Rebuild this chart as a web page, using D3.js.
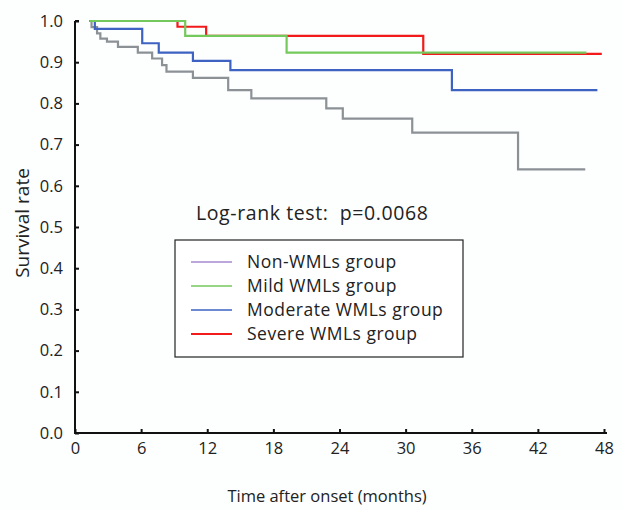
<!DOCTYPE html>
<html><head><meta charset="utf-8">
<script src="https://cdn.jsdelivr.net/npm/d3@7"></script>
<style>
body{margin:0;background:#fdfefe;}
svg{display:block;}
text{font-family:"Open Sans","Noto Sans",sans-serif;fill:#222;}
</style></head>
<body><div id="chart"></div>
<script>
// Kaplan–Meier steps: [month, survival]
const nonWMLs = [[1.3,1.0],[1.5,0.985],[2.0,0.970],[2.3,0.957],[2.9,0.950],[3.9,0.937],[5.7,0.923],[7.0,0.909],[7.9,0.893],[8.3,0.877],[10.7,0.862],[13.9,0.832],[16.0,0.812],[22.8,0.788],[24.3,0.763],[30.6,0.729],[40.2,0.640],[46.3,0.640]];
const mildWMLs = [[1.3,1.0],[10.0,0.964],[19.2,0.923],[46.4,0.923]];
const moderateWMLs = [[1.3,1.0],[1.8,0.981],[6.1,0.946],[7.6,0.923],[10.7,0.903],[14.1,0.881],[34.2,0.832],[47.4,0.832]];
const severeWMLs = [[1.3,1.0],[9.3,0.986],[11.9,0.964],[31.6,0.920],[47.8,0.920]];
const seriesNames = ["Non-WMLs group","Mild WMLs group","Moderate WMLs group","Severe WMLs group"];
const xTicks = [0,6,12,18,24,30,36,42,48];
const yTicks = [0,0.1,0.2,0.3,0.4,0.5,0.6,0.7,0.8,0.9,1.0];

const W=623,H=510;
const svg=d3.select("#chart").append("svg").attr("width",W).attr("height",H);
const x=d3.scaleLinear().domain([0,48]).range([75,604]);
const y=d3.scaleLinear().domain([0,1]).range([433,21]);

const curveColors=["#8c9196","#74c95c","#3d62c2","#f21a1a"];
const legendColors=["#a48ad0","#74c95c","#3d62c2","#f21a1a"];
const data=[nonWMLs,mildWMLs,moderateWMLs,severeWMLs];

// axes
const xAxis=svg.append("g").attr("transform",`translate(0,${y(0)})`)
  .call(d3.axisBottom(x).tickValues(xTicks).tickSize(-4).tickPadding(9).tickFormat(d3.format("d")));
const yAxis=svg.append("g").attr("transform",`translate(${x(0)},0)`)
  .call(d3.axisLeft(y).tickValues(yTicks).tickSize(-4).tickPadding(12).tickFormat(d3.format(".1f")));
[xAxis,yAxis].forEach(a=>{
  a.select(".domain").attr("stroke","#111").attr("stroke-width",2);
  a.selectAll(".tick line").attr("stroke","#111").attr("stroke-width",2);
  a.selectAll("text").style("font-size","16.5px").attr("fill","#222");
});
xAxis.select(".domain").attr("d",`M${x(0)},0H${x(48)+3}`);
yAxis.select(".domain").attr("d",`M0,${y(1)}H4M0,${y(1)}V${y(0)+1}`);

// curves: gray, red, blue, green (green on top)
const line=d3.line().x(d=>x(d[0])).y(d=>y(d[1])).curve(d3.curveStepAfter);
[0,3,2,1].forEach(i=>{
  svg.append("path").datum(data[i]).attr("d",line).attr("fill","none")
    .attr("stroke",curveColors[i]).attr("stroke-width",2.2);
});

// text
svg.append("text").attr("x",196).attr("y",220).style("font-size","19.5px").style("letter-spacing","0.6px")
  .attr("fill","#111").attr("xml:space","preserve").text("Log-rank test:  p=0.0068");

// legend
const lg=svg.append("g");
lg.append("rect").attr("x",175).attr("y",240).attr("width",288).attr("height",117)
  .attr("fill","#fff").attr("stroke","#222").attr("stroke-width",1.2);
const rowsY=[262,286,310,334];
seriesNames.forEach((n,i)=>{
  lg.append("line").attr("x1",191).attr("x2",232).attr("y1",rowsY[i]).attr("y2",rowsY[i])
    .attr("stroke",legendColors[i]).attr("stroke-width",i==3?2:1.4);
  lg.append("text").attr("x",247).attr("y",rowsY[i]).attr("dy","0.35em")
    .style("font-size","17.5px").style("letter-spacing","0.5px").attr("fill","#111").text(n);
});

svg.append("text").attr("x",327).attr("y",502).attr("text-anchor","middle")
  .style("font-size","16.5px").text("Time after onset (months)");
svg.append("text").attr("transform","translate(29,223) rotate(-90)").attr("text-anchor","middle")
  .style("font-size","19px").text("Survival rate");
</script></body></html>
